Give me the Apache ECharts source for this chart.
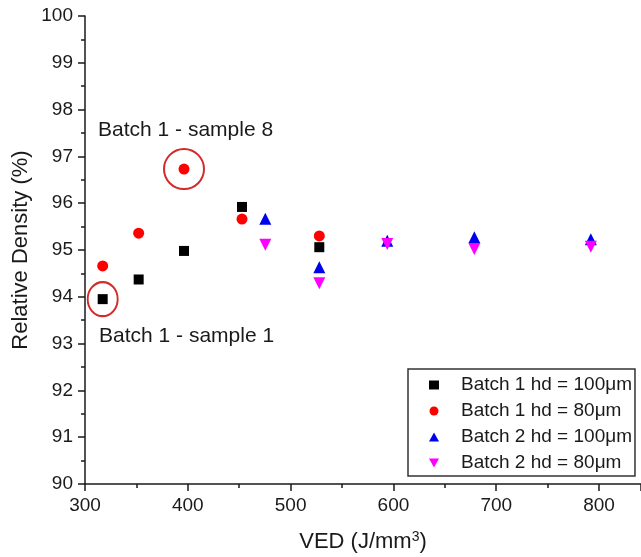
<!DOCTYPE html>
<html>
<head>
<meta charset="utf-8">
<script src="https://cdn.jsdelivr.net/npm/echarts@6/dist/echarts.min.js"></script>
<style>html,body{margin:0;padding:0;background:#fff}#c{width:641px;height:557px}</style>
</head>
<body>
<div id="c"></div>
<script>
// Data (VED J/mm3, relative density %)
const b1hd100 = [[317.2, 93.95], [352.2, 94.37], [396.3, 94.98], [452.7, 95.92], [527.9, 95.06]];
const b1hd80 = [[317.2, 94.66], [352.2, 95.36], [396.3, 96.73], [452.7, 95.66], [527.9, 95.30]];
const b2hd100 = [[475.4, 95.67], [527.9, 94.63], [594, 95.20], [678.7, 95.27], [792, 95.23]];
const b2hd80 = [[475.4, 95.11], [527.9, 94.29], [594, 95.13], [678.7, 95.02], [792, 95.07]];
const seriesNames = ['Batch 1 hd = 100\u03bcm', 'Batch 1 hd = 80\u03bcm', 'Batch 2 hd = 100\u03bcm', 'Batch 2 hd = 80\u03bcm'];
const highlightSample1 = [[317.2, 93.95]];
const highlightSample8 = [[396.3, 96.73]];
const annotationTexts = ['Batch 1 - sample 8', 'Batch 1 - sample 1'];

const FONT = '"Liberation Sans", Arial, sans-serif';
const chart = echarts.init(document.getElementById('c'), null, {renderer: 'canvas'});
const ringColor = '#d42a2a';
const downTri = 'path://M0,0 L10,0 L5,9 Z';
const upTri = 'path://M5,0 L10,9 L0,9 Z';

chart.setOption({
  animation: false,
  backgroundColor: '#fff',
  textStyle: {fontFamily: FONT},
  grid: {left: 85, top: 16, right: 0, bottom: 73, containLabel: false, outerBoundsMode: 'none'},
  xAxis: {
    type: 'value', min: 300, max: 840.8, interval: 100,
    name: 'VED (J/mm{sup|3})',
    nameLocation: 'middle', nameGap: 46,
    nameTextStyle: {fontSize: 22, color: '#1a1a1a', fontFamily: FONT,
      rich: {sup: {fontSize: 14, verticalAlign: 'top', padding: [0, 0, 10, 0], color: '#1a1a1a', fontFamily: FONT}}},
    axisLine: {show: true, lineStyle: {color: '#1a1a1a', width: 1.5}},
    axisTick: {show: true, inside: false, length: 7, lineStyle: {color: '#1a1a1a', width: 1.5}},
    minorTick: {show: true, splitNumber: 2, length: 4, lineStyle: {color: '#1a1a1a', width: 1.5}},
    splitLine: {show: false},
    axisLabel: {fontSize: 19, color: '#1a1a1a', margin: 12, fontFamily: FONT, showMaxLabel: false,
      formatter: v => (v % 100 === 0 ? String(v) : '')}
  },
  yAxis: {
    type: 'value', min: 90, max: 100, interval: 1,
    name: 'Relative Density (%)',
    nameLocation: 'middle', nameGap: 53, nameMoveOverlap: false,
    nameTextStyle: {fontSize: 22, color: '#1a1a1a', fontFamily: FONT},
    axisLine: {show: true, lineStyle: {color: '#1a1a1a', width: 1.5}},
    axisTick: {show: true, inside: false, length: 7, lineStyle: {color: '#1a1a1a', width: 1.5}},
    minorTick: {show: true, splitNumber: 2, length: 4, lineStyle: {color: '#1a1a1a', width: 1.5}},
    splitLine: {show: false},
    axisLabel: {fontSize: 19, color: '#1a1a1a', margin: 12, fontFamily: FONT}
  },
  legend: {
    data: [
      {name: seriesNames[0], icon: 'rect'},
      {name: seriesNames[1], icon: 'circle'},
      {name: seriesNames[2], icon: upTri},
      {name: seriesNames[3], icon: downTri}
    ],
    orient: 'vertical',
    left: 408, top: 369,
    padding: [6, 3, 3, 21],
    itemGap: 6,
    itemWidth: 10, itemHeight: 9,
    backgroundColor: '#fff',
    borderColor: '#333', borderWidth: 1.5, borderRadius: 0,
    textStyle: {fontSize: 19, lineHeight: 20, color: '#1a1a1a', fontFamily: FONT, padding: [0, 0, 0, 17]},
    selectedMode: false
  },
  series: [
    {name: seriesNames[0], type: 'scatter', data: b1hd100, symbol: 'rect', symbolSize: 10,
      itemStyle: {color: '#000', opacity: 1}, z: 3},
    {name: seriesNames[1], type: 'scatter', data: b1hd80, symbol: 'circle', symbolSize: 11,
      itemStyle: {color: '#f00', opacity: 1}, z: 3},
    {name: seriesNames[2], type: 'scatter', data: b2hd100, symbol: 'triangle', symbolSize: 12,
      itemStyle: {color: '#0000f0', opacity: 1}, z: 3},
    {name: seriesNames[3], type: 'scatter', data: b2hd80, symbol: 'triangle', symbolRotate: 180, symbolSize: 12,
      itemStyle: {color: '#f0f', opacity: 1}, z: 3},
    {name: 'ring1', type: 'scatter', data: highlightSample1, symbol: 'circle', symbolSize: [30, 34], silent: true,
      itemStyle: {color: 'rgba(0,0,0,0)', borderColor: ringColor, borderWidth: 2, opacity: 1}, z: 2},
    {name: 'ring8', type: 'scatter', data: highlightSample8, symbol: 'circle', symbolSize: [40, 40], silent: true,
      itemStyle: {color: 'rgba(0,0,0,0)', borderColor: ringColor, borderWidth: 2, opacity: 1}, z: 2}
  ],
  graphic: [
    {type: 'text', left: 98, top: 120, style: {text: annotationTexts[0], font: '21px ' + FONT, fill: '#1a1a1a'}},
    {type: 'text', left: 99, top: 326, style: {text: annotationTexts[1], font: '21px ' + FONT, fill: '#1a1a1a'}}
  ]
});
</script>
</body>
</html>
